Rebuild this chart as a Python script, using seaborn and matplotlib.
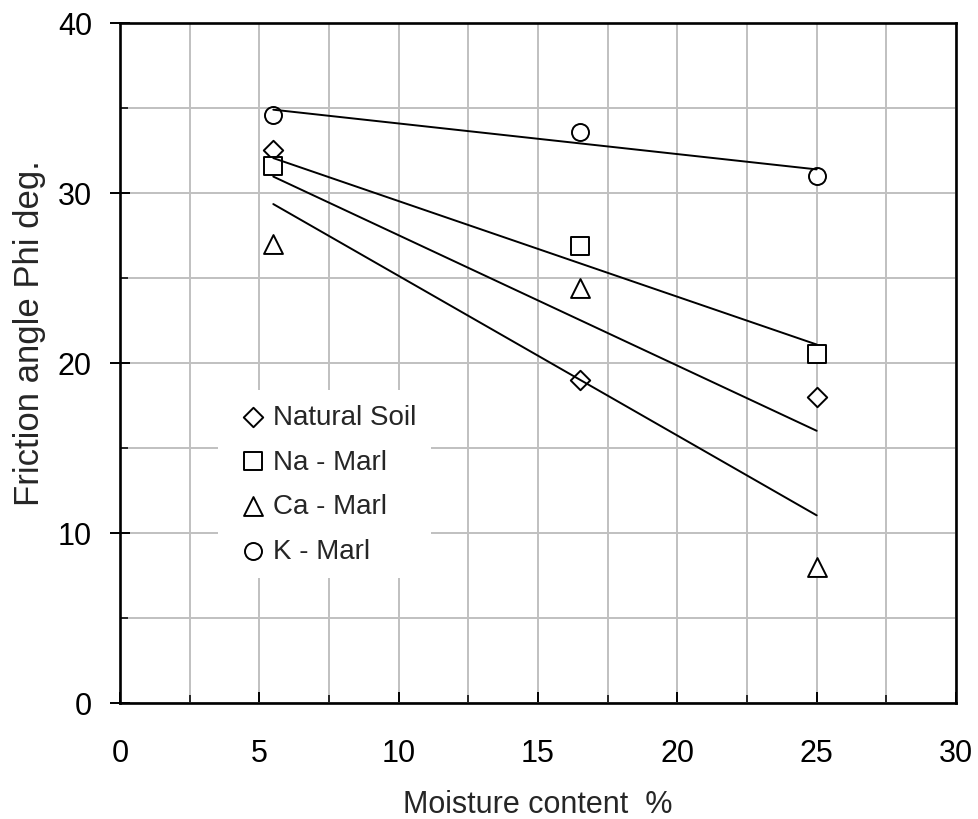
import numpy as np
import pandas as pd
import matplotlib
matplotlib.use('Agg')
import matplotlib.pyplot as plt
import seaborn as sns
from matplotlib.ticker import MultipleLocator

# Dados
moisture = [5.5, 16.5, 25.0]
natural_soil = [32.5, 19.0, 18.0]
na_marl = [31.6, 26.9, 20.5]
ca_marl = [27.0, 24.4, 8.0]
k_marl = [34.6, 33.6, 31.0]
series_names = ['Natural Soil', 'Na - Marl', 'Ca - Marl', 'K - Marl']

series_values = [natural_soil, na_marl, ca_marl, k_marl]
marker_style = {'Natural Soil': ('D', 98), 'Na - Marl': ('s', 150),
                'Ca - Marl': ('^', 185), 'K - Marl': ('o', 150)}

sns.set_theme(style='ticks')
plt.rcParams['font.family'] = ['Liberation Sans', 'DejaVu Sans']

fig = plt.figure(figsize=(9.79, 8.2), dpi=100)
ax = fig.add_axes([0.1226, 0.1415, 0.8539, 0.8293])

grid_color = '#c0c0c0'

for name, values in zip(series_names, series_values):
    df = pd.DataFrame({'x': moisture, 'y': values})
    marker, size = marker_style[name]
    # linha de tendência (regressão linear)
    sns.regplot(data=df, x='x', y='y', ax=ax, scatter=False, ci=None, truncate=True,
                line_kws={'color': 'black', 'linewidth': 1.4, 'zorder': 4})
    sns.scatterplot(data=df, x='x', y='y', ax=ax, marker=marker, s=size,
                    facecolor='white', edgecolor='black', linewidth=1.4,
                    label=name, zorder=3)

ax.set_xlim(0, 30)
ax.set_ylim(0, 40)
ax.xaxis.set_major_locator(MultipleLocator(5))
ax.xaxis.set_minor_locator(MultipleLocator(2.5))
ax.yaxis.set_major_locator(MultipleLocator(10))
ax.yaxis.set_minor_locator(MultipleLocator(5))

ax.grid(True, which='both', color=grid_color, linewidth=1.4)
ax.set_axisbelow(True)

for s in ax.spines.values():
    s.set_visible(True)
    s.set_color('black')
    s.set_linewidth(1.9)

ax.tick_params(axis='y', which='major', direction='inout', length=14.4, width=1.4,
               labelsize=22, pad=13, colors='black')
ax.tick_params(axis='y', which='minor', direction='in', length=6, width=1.4)
ax.tick_params(axis='x', which='major', direction='in', length=8, width=1.4,
               labelsize=22, pad=25, colors='black')
ax.tick_params(axis='x', which='minor', direction='in', length=6, width=1.4)

ax.set_xlabel('Moisture content  %', fontsize=22, labelpad=15)
ax.set_ylabel('Friction angle Phi deg.', fontsize=25)
ax.yaxis.set_label_coords(-0.0885, 0.546)

leg = ax.legend(loc='upper left', bbox_to_anchor=(0.117, 0.460), borderaxespad=0,
                fontsize=20, frameon=True, fancybox=False, framealpha=1,
                edgecolor='none', borderpad=0.5, handlelength=1.5,
                handletextpad=0.0, labelspacing=0.67)
leg.set_zorder(5)

plt.savefig('out.png', dpi=100)
